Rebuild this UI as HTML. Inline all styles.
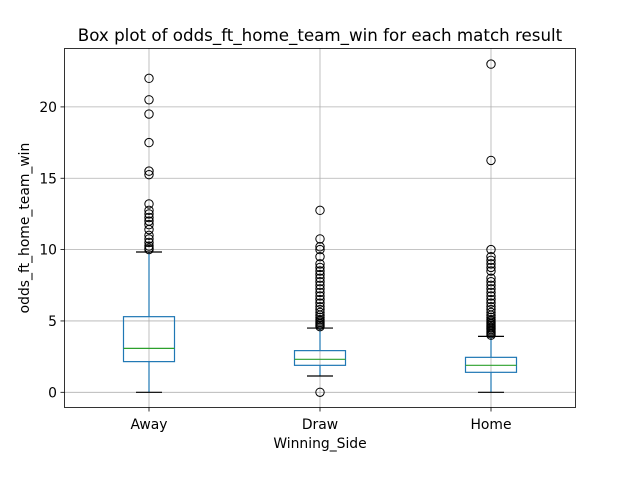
<!DOCTYPE html>
<html><head><meta charset="utf-8"><style>
body{margin:0;background:#fff;}
svg{display:block;font-family:"DejaVu Sans","Liberation Sans",sans-serif;}
</style></head><body>
<svg id="chart" width="640" height="480">
<rect x="0" y="0" width="640" height="480" fill="#fff"/>
<g id="grid"></g>
<g id="marks"></g>
<rect x="64.5" y="48.5" width="511" height="359" fill="none" stroke="#000" stroke-width="0.8"/>
<g id="axes"></g>
<text x="320" y="41" text-anchor="middle" font-size="16.7">Box plot of odds_ft_home_team_win for each match result</text>
<text x="320" y="448" text-anchor="middle" font-size="13.9">Winning_Side</text>
<text transform="translate(29,228) rotate(-90)" text-anchor="middle" font-size="13.9">odds_ft_home_team_win</text>
</svg>
<script>
const categories=["Away","Draw","Home"];
const q1=[2.15,1.89,1.40];
const medians=[3.08,2.31,1.89];
const q3=[5.3,2.92,2.45];
const whiskerLow=[0,1.14,0];
const whiskerHigh=[9.83,4.5,3.92];
const outliers=[
[22,20.5,19.5,17.5,15.5,15.25,13.2,12.75,12.5,12.25,12,11.75,11.4,11,10.75,10.5,10.25,10.1,10],
[12.75,10.75,10.2,10,9.5,9,8.75,8.5,8.25,8,7.75,7.5,7.25,7,6.75,6.5,6.25,6,5.8,5.6,5.4,5.25,5.1,5,4.9,4.8,4.7,4.6,0],
[23,16.25,10,9.5,9.25,9,8.75,8.5,8,7.75,7.5,7.25,7,6.75,6.5,6.25,6,5.8,5.6,5.4,5.25,5.1,5,4.9,4.8,4.7,4.6,4.5,4.4,4.3,4.2,4.1,4]
];
const yTicks=[0,5,10,15,20];

const NS="http://www.w3.org/2000/svg";
function y(v){return 392.3-v*14.27;}
function x(i){return 149+i*171;}
function mk(tag,attrs,parent){const e=document.createElementNS(NS,tag);for(const k in attrs)e.setAttribute(k,attrs[k]);document.getElementById(parent).appendChild(e);return e;}
yTicks.forEach(t=>{
  const gl=mk('line',{x1:64,x2:576,y1:y(t),y2:y(t),stroke:'#b0b0b0','stroke-width':0.8},'grid');
  
  
  const tk=mk('line',{x1:60.5,x2:64.5,y1:y(t),y2:y(t),stroke:'#000','stroke-width':0.8},'axes');
  
  
  const tl=mk('text',{x:57,y:y(t)+5,'text-anchor':'end','font-size':13.9},'axes');
  tl.textContent=t;
  
  
});
categories.forEach((c,i)=>{
  const cx=x(i);
  const gl=mk('line',{x1:cx,x2:cx,y1:48,y2:408,stroke:'#b0b0b0','stroke-width':0.8},'grid');
  
  
  const tk=mk('line',{x1:cx,x2:cx,y1:407.5,y2:411.5,stroke:'#000','stroke-width':0.8},'axes');
  
  
  const tl=mk('text',{x:cx,y:429,'text-anchor':'middle','font-size':13.9},'axes');
  tl.textContent=c;
  
  
  const w1=mk('line',{x1:cx,x2:cx,y1:y(q1[i]),y2:y(whiskerLow[i]),stroke:'#1f77b4','stroke-width':1.2},'marks');
  
  
  const w2=mk('line',{x1:cx,x2:cx,y1:y(q3[i]),y2:y(whiskerHigh[i]),stroke:'#1f77b4','stroke-width':1.2},'marks');
  
  
  [whiskerLow[i],whiskerHigh[i]].forEach(v=>{
    const cap=mk('line',{x1:cx-13,x2:cx+13,y1:y(v),y2:y(v),stroke:'#000','stroke-width':1.2},'marks');
    
    
  });
  const b=mk('rect',{x:cx-25.5,y:y(q3[i]),width:51,height:y(q1[i])-y(q3[i]),fill:'none',stroke:'#1f77b4','stroke-width':1.2},'marks');
  
  
  const m=mk('line',{x1:cx-25.5,x2:cx+25.5,y1:y(medians[i]),y2:y(medians[i]),stroke:'#2ca02c','stroke-width':1.2},'marks');
  
  
  outliers[i].forEach(v=>{
    const o=mk('circle',{cx:cx,cy:y(v),r:4.2,fill:'none',stroke:'#000','stroke-width':1},'marks');
    
    
  });
});
</script>
</body></html>
